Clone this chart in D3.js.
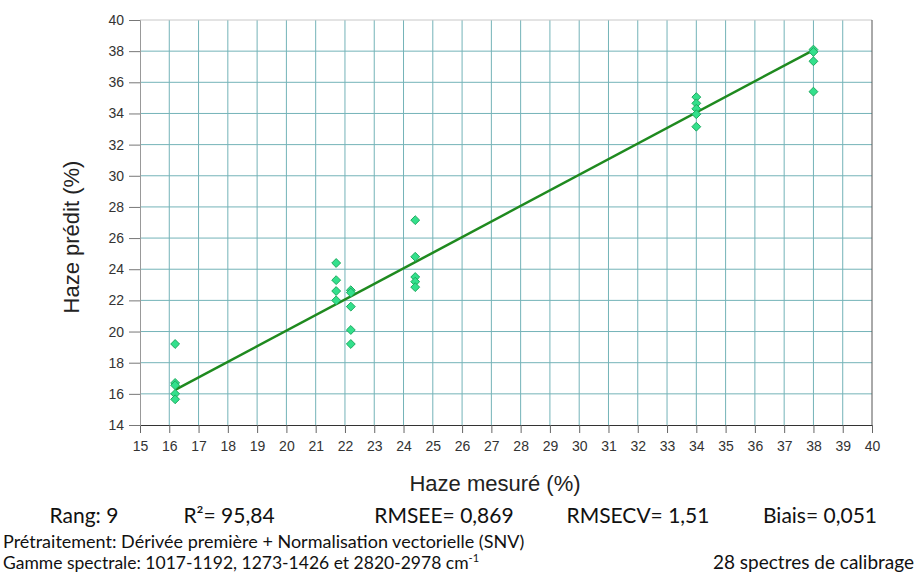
<!DOCTYPE html>
<html><head><meta charset="utf-8">
<script src="https://cdn.jsdelivr.net/npm/d3@7"></script>
<style>
html,body{margin:0;padding:0;background:#fff;}
svg{display:block;}
</style></head>
<body>
<svg id="chart" width="916" height="572"></svg>
<script>
// ---- data ----
const measured = [16.2,16.2,16.2,16.2,16.2,
  21.7,21.7,21.7,21.7,
  22.2,22.2,22.2,22.2,22.2,
  24.4,24.4,24.4,24.4,24.4,
  34,34,34,34,34,
  38,38,38,38];
const predicted = [19.2,16.7,16.55,16.0,15.65,
  24.4,23.3,22.6,22.0,
  22.65,22.5,21.6,20.1,19.2,
  27.15,24.8,23.5,23.2,22.85,
  35.05,34.65,34.3,33.95,33.15,
  38.1,37.95,37.35,35.4];
const fitX = [16.2, 38];
const fitY = [16.25, 38.07];
const xTicks = d3.range(15, 41, 1);
const yTicks = d3.range(14, 41, 2);
const statsLabels = ["Rang: 9","R\u00b2= 95,84","RMSEE= 0,869","RMSECV= 1,51","Biais= 0,051"];
const line1 = "Pr\u00e9traitement: D\u00e9riv\u00e9e premi\u00e8re + Normalisation vectorielle (SNV)";
const line2 = "Gamme spectrale: 1017-1192, 1273-1426 et 2820-2978 cm";
const line2sup = "-1";
const countLabel = "28 spectres de calibrage";
const xTitle = "Haze mesur\u00e9 (%)";
const yTitle = "Haze pr\u00e9dit (%)";

// ---- layout ----
const L = 140, R = 872, T = 20, B = 425;
const svg = d3.select("#chart");
const x = d3.scaleLinear().domain([15, 40]).range([L, R]);
const y = d3.scaleLinear().domain([14, 40]).range([B, T]);
const txtFont = "Lato, Carlito, Calibri, sans-serif";
const axFont = "Liberation Sans, Arial, sans-serif";

// gridlines
const grid = svg.append("g");
grid.selectAll("line.v").data(xTicks.filter(d => d > 15 && d < 40)).enter().append("line")
  .attr("x1", d => x(d)).attr("x2", d => x(d)).attr("y1", T).attr("y2", B)
  .attr("stroke", "#74b3b8").attr("stroke-width", 1);
grid.selectAll("line.h").data(yTicks.filter(d => d > 14 && d < 40)).enter().append("line")
  .attr("x1", L).attr("x2", R).attr("y1", d => y(d)).attr("y2", d => y(d))
  .attr("stroke", "#74b3b8").attr("stroke-width", 1);
// top border
svg.append("line").attr("x1", L).attr("x2", R).attr("y1", T).attr("y2", T)
  .attr("stroke", "#c8c8c8").attr("stroke-width", 1);
// right border
svg.append("line").attr("x1", R).attr("x2", R).attr("y1", T).attr("y2", B)
  .attr("stroke", "#555").attr("stroke-width", 1);

// axes
const xAxis = svg.append("g").attr("transform", `translate(0,${B})`)
  .call(d3.axisBottom(x).tickValues(xTicks).tickSize(8).tickPadding(8).tickFormat(d3.format("d")));
const yAxis = svg.append("g").attr("transform", `translate(${L},0)`)
  .call(d3.axisLeft(y).tickValues(yTicks).tickSize(11).tickPadding(5).tickFormat(d3.format("d")));
xAxis.select(".domain").attr("stroke", "#333");
yAxis.select(".domain").attr("stroke", "#999");
xAxis.selectAll(".tick line").attr("stroke", "#666");
yAxis.selectAll(".tick line").attr("stroke", "#777");
svg.selectAll(".tick text").attr("font-family", axFont)
  .attr("font-size", 14).attr("fill", "#333");

// fit line
const fitData = fitX.map((d, i) => [d, fitY[i]]);
svg.append("path").datum(fitData)
  .attr("d", d3.line().x(d => x(d[0])).y(d => y(d[1])))
  .attr("stroke", "#1f8a1f").attr("stroke-width", 2.5).attr("fill", "none");

// points
const pts = measured.map((d, i) => [d, predicted[i]]);
const sym = d3.symbol().type(d3.symbolDiamond2).size(50);
svg.append("g").selectAll("path").data(pts).enter().append("path")
  .attr("d", sym)
  .attr("transform", d => `translate(${x(d[0])},${y(d[1])})`)
  .attr("fill", "#33e08c").attr("stroke", "#1faa5f").attr("stroke-width", 1);

// axis titles
svg.append("text").attr("x", 495).attr("y", 491)
  .attr("text-anchor", "middle").attr("font-family", axFont)
  .attr("font-size", 22).attr("fill", "#222").text(xTitle);
svg.append("text").attr("transform", "translate(79,237) rotate(-90)")
  .attr("text-anchor", "middle").attr("font-family", axFont)
  .attr("font-size", 22).attr("fill", "#222").text(yTitle);

// stats row
const statX = [84, 229, 444, 638, 820];
svg.append("g").selectAll("text").data(statsLabels).enter().append("text")
  .attr("x", (d, i) => statX[i]).attr("y", 523).attr("text-anchor", "middle")
  .attr("font-family", txtFont).attr("font-size", 21)
  .attr("fill", "#111").text(d => d);

svg.append("text").attr("x", 3).attr("y", 548)
  .attr("font-family", txtFont).attr("font-size", 18)
  .attr("fill", "#111").text(line1);
const t2 = svg.append("text").attr("x", 3).attr("y", 569)
  .attr("font-family", txtFont).attr("font-size", 17.5)
  .attr("fill", "#111").text(line2);
t2.append("tspan").attr("font-size", 11).attr("dy", -7).text(line2sup);
svg.append("text").attr("x", 914).attr("y", 569).attr("text-anchor", "end")
  .attr("font-family", txtFont).attr("font-size", 19)
  .attr("fill", "#111").text(countLabel);
</script>
</body></html>
